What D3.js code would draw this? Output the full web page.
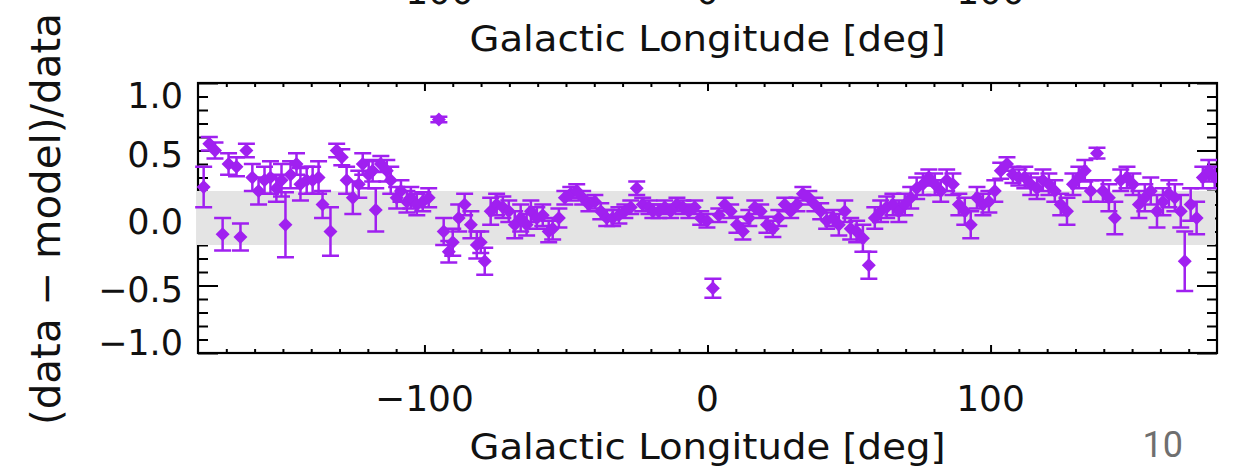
<!DOCTYPE html>
<html>
<head>
<meta charset="utf-8">
<script src="https://cdn.jsdelivr.net/npm/d3@7"></script>
<style>
  html, body { margin: 0; padding: 0; background: #fff; }
  svg { display: block; }
  text { font-family: "DejaVu Sans", sans-serif; fill: #111; }
</style>
</head>
<body>
<svg id="chart" width="1241" height="472"></svg>
<script>
// ---- data ----
const longitude = [-178,-176,-174,-171.3,-169.2,-166.4,-165,-162.9,-160.8,-158.6,-156.5,-154.4,-152.3,-150.5,-149.1,-147.3,-145.2,-143.8,-141.6,-139.5,-137.4,-136,-133.2,-131,-129.2,-127.5,-125.3,-123.2,-121.8,-119.7,-118.3,-117.2,-115.4,-113.3,-111.9,-109.8,-108.3,-106.2,-104.8,-102.7,-100.6,-98.5,-94.9,-93.2,-91.4,-90,-87.9,-85.8,-83.6,-81.5,-80.1,-78.7,-76.6,-74.5,-72.3,-70.2,-68.1,-66,-63.9,-62.4,-60.3,-58.2,-56.1,-54.7,-52.5,-50.4,-48.3,-46.2,-44.1,-41.9,-39.8,-37.7,-35.6,-33.5,-31.3,-29.2,-27.1,-25,-22.9,-20.7,-19.3,-17.2,-15.1,-13,-10.8,-8.7,-6.6,-4.5,-2.4,-0.2,1.9,4,6.1,8.2,10.4,12.5,14.6,16.7,18.8,21,23.1,25.2,27.3,29.4,31.6,33.7,35.8,37.9,40,42.1,44.3,46.4,48.5,50.6,52.7,54.9,57,59.1,61.2,63.3,65.5,67.6,69.7,71.8,73.9,76.1,78.2,80.3,82.4,84.5,86.7,88.8,90.9,93,95.2,97.3,99.4,101.5,103.6,105.8,107.9,110,112.1,114.2,116.4,118.5,120.6,122.7,124.8,127,129.1,131.2,133.3,135.4,137.6,139.7,141.8,143.9,146,148.2,150.3,152.4,154.5,156.6,158.8,160.9,163,165.1,167.2,168.6,170.7,172.8,175,177.1,179.2];
const residual = [0.23,0.55,0.50,-0.12,0.40,0.38,-0.14,0.50,0.30,0.20,0.28,0.30,0.22,0.28,-0.05,0.32,0.40,0.25,0.28,0.28,0.30,0.10,-0.10,0.50,0.45,0.28,0.15,0.25,0.40,0.32,0.35,0.06,0.40,0.35,0.28,0.15,0.20,0.12,0.15,0.10,0.12,0.15,0.73,-0.10,-0.25,-0.18,0.00,0.10,-0.05,-0.20,-0.18,-0.32,0.05,0.10,0.08,0.05,-0.05,0.00,-0.05,0.05,0.00,0.02,-0.10,-0.08,0.00,0.15,0.18,0.20,0.15,0.10,0.12,0.05,0.00,0.00,0.02,0.05,0.08,0.22,0.10,0.08,0.05,0.05,0.08,0.05,0.10,0.08,0.05,0.08,0.00,-0.02,-0.52,0.02,0.10,0.05,-0.05,-0.10,0.00,0.08,0.05,-0.05,-0.08,0.00,0.10,0.05,0.10,0.18,0.15,0.10,0.05,-0.02,0.00,-0.05,0.05,-0.08,-0.10,-0.15,-0.35,0.00,0.05,0.08,0.10,0.05,0.10,0.15,0.22,0.25,0.30,0.25,0.20,0.28,0.25,0.10,0.05,-0.05,0.15,0.10,0.12,0.20,0.35,0.40,0.32,0.30,0.30,0.25,0.22,0.28,0.25,0.20,0.10,0.05,0.25,0.30,0.35,0.20,0.48,0.20,0.15,0.00,0.28,0.30,0.25,0.10,0.15,0.20,0.05,0.12,0.18,0.15,0.05,-0.32,0.10,0.00,0.30,0.35,0.30];
const errorBar = [0.15,0.05,0.06,0.12,0.08,0.07,0.10,0.05,0.10,0.10,0.10,0.12,0.10,0.12,0.24,0.10,0.08,0.12,0.10,0.10,0.12,0.10,0.18,0.05,0.06,0.10,0.12,0.10,0.08,0.10,0.08,0.16,0.06,0.08,0.10,0.08,0.08,0.08,0.08,0.08,0.07,0.07,0.02,0.10,0.08,0.10,0.10,0.08,0.10,0.10,0.08,0.10,0.10,0.08,0.08,0.08,0.10,0.10,0.08,0.08,0.08,0.08,0.08,0.08,0.07,0.05,0.05,0.05,0.05,0.05,0.05,0.06,0.06,0.06,0.06,0.05,0.05,0.05,0.05,0.05,0.05,0.05,0.05,0.05,0.05,0.05,0.05,0.05,0.05,0.05,0.07,0.05,0.05,0.05,0.06,0.06,0.06,0.05,0.05,0.06,0.06,0.06,0.05,0.05,0.05,0.05,0.05,0.05,0.06,0.06,0.06,0.08,0.08,0.08,0.08,0.10,0.10,0.08,0.08,0.08,0.08,0.08,0.08,0.08,0.08,0.08,0.06,0.08,0.08,0.08,0.08,0.08,0.10,0.10,0.08,0.08,0.08,0.08,0.06,0.05,0.06,0.06,0.08,0.08,0.08,0.08,0.08,0.08,0.08,0.10,0.08,0.08,0.08,0.08,0.04,0.08,0.10,0.12,0.08,0.08,0.08,0.10,0.10,0.10,0.12,0.10,0.10,0.10,0.12,0.22,0.12,0.12,0.08,0.08,0.08];
const bandLimits = [-0.2, 0.2];
const xMajorTicks = [-100, 0, 100];
const xTickLabels = ["\u2212100", "0", "100"];
const xMinorTicks = [-170,-160,-150,-140,-130,-120,-110,-90,-80,-70,-60,-50,-40,-30,-20,-10,10,20,30,40,50,60,70,80,90,110,120,130,140,150,160,170];
const yMajorTicks = [-1, -0.5, 0, 0.5, 1];
const yTickLabels = ["\u22121.0", "\u22120.5", "0.0", "0.5", "1.0"];
const yMinorTicks = [-0.9,-0.8,-0.7,-0.6,-0.4,-0.3,-0.2,-0.1,0.1,0.2,0.3,0.4,0.6,0.7,0.8,0.9];
const xTitle = "Galactic Longitude [deg]";
const yTitle = "(data \u2212 model)/data";
const pageNumber = "10";

// ---- layout ----
const L = 198, R = 1217, T = 83, B = 353;
const purple = "#a020f0";
const svg = d3.select("#chart");
const x = d3.scaleLinear().domain([-180, 180]).range([L, R]);
const y = d3.scaleLinear().domain([-1, 1]).range([B, T]);

// upper (cut-off) panel remnants: tick labels and title
svg.append("g").selectAll("text").data(xMajorTicks).join("text")
  .attr("x", d => x(d)).attr("y", 4).attr("text-anchor", "middle")
  .style("font-size", "36px").text((d, i) => xTickLabels[i]);
svg.append("text").attr("x", x(0)).attr("y", 51).attr("text-anchor", "middle")
  .attr("textLength", 476).attr("lengthAdjust", "spacingAndGlyphs")
  .style("font-size", "36px").text(xTitle);

// frame
svg.append("rect").attr("x", L).attr("y", T).attr("width", R - L).attr("height", B - T)
  .attr("fill", "none").attr("stroke", "#000").attr("stroke-width", 2.2);

// ticks via d3 axes
function addAxis(axisFn, scale, values, size, transform) {
  svg.append("g").attr("transform", transform)
    .call(axisFn(scale).tickValues(values).tickSize(size).tickFormat(""))
    .call(g => g.select(".domain").remove())
    .call(g => g.selectAll("line").attr("stroke", "#000").attr("stroke-width", 2));
}
addAxis(d3.axisTop, x, xMinorTicks, 4, `translate(0,${B})`);
addAxis(d3.axisTop, x, xMajorTicks, 8, `translate(0,${B})`);
addAxis(d3.axisBottom, x, xMinorTicks, 4, `translate(0,${T})`);
addAxis(d3.axisBottom, x, xMajorTicks, 8, `translate(0,${T})`);
addAxis(d3.axisRight, y, yMinorTicks, 10, `translate(${L},0)`);
addAxis(d3.axisRight, y, yMajorTicks, 20, `translate(${L},0)`);
addAxis(d3.axisLeft, y, yMinorTicks, 10, `translate(${R},0)`);
addAxis(d3.axisLeft, y, yMajorTicks, 20, `translate(${R},0)`);

// grey band
svg.append("rect").attr("x", L - 1).attr("width", R - L - 1)
  .attr("y", y(bandLimits[1])).attr("height", y(bandLimits[0]) - y(bandLimits[1]))
  .attr("fill", "#e4e4e4");

// tick labels
svg.append("g").selectAll("text").data(xMajorTicks).join("text")
  .attr("x", d => x(d)).attr("y", 411).attr("text-anchor", "middle")
  .style("font-size", "36px").text((d, i) => xTickLabels[i]);
svg.append("g").selectAll("text").data(yMajorTicks).join("text")
  .attr("x", 183).attr("y", d => Math.max(108, Math.min(355, y(d) + 16)))
  .attr("text-anchor", "end").style("font-size", "35px").text((d, i) => yTickLabels[i]);

// titles
svg.append("text").attr("x", x(0)).attr("y", 459).attr("text-anchor", "middle")
  .attr("textLength", 476).attr("lengthAdjust", "spacingAndGlyphs")
  .style("font-size", "36px").text(xTitle);
svg.append("text").attr("transform", `translate(60,219) rotate(-90)`)
  .attr("text-anchor", "middle").attr("textLength", 412).attr("lengthAdjust", "spacingAndGlyphs")
  .style("font-size", "40px").text(yTitle);
svg.append("text").attr("x", 1183).attr("y", 457).attr("text-anchor", "end")
  .style("font-family", "Roboto, sans-serif").style("font-size", "36px").style("fill", "#6f6f6f")
  .text(pageNumber);

// data
const pts = longitude.map((l, i) => ({ l, v: residual[i], e: errorBar[i] }));
const clip = svg.append("clipPath").attr("id", "plotclip");
clip.append("rect").attr("x", L - 6).attr("y", T).attr("width", R - L + 6).attr("height", B - T);
const data = svg.append("g").attr("clip-path", "url(#plotclip)");
const cap = 8.5;
data.selectAll("path.err").data(pts).join("path").attr("class", "err")
  .attr("d", d => {
    const cx = x(d.l), y0 = y(d.v - d.e), y1 = y(d.v + d.e);
    return `M${cx},${y0}V${y1}M${cx - cap},${y0}H${cx + cap}M${cx - cap},${y1}H${cx + cap}`;
  })
  .attr("stroke", purple).attr("stroke-width", 2.5).attr("fill", "none");
data.selectAll("path.pt").data(pts).join("path").attr("class", "pt")
  .attr("transform", d => `translate(${x(d.l)},${y(d.v)})`)
  .attr("d", "M0,-7L7,0L0,7L-7,0Z")
  .attr("fill", purple);
</script>
</body>
</html>
